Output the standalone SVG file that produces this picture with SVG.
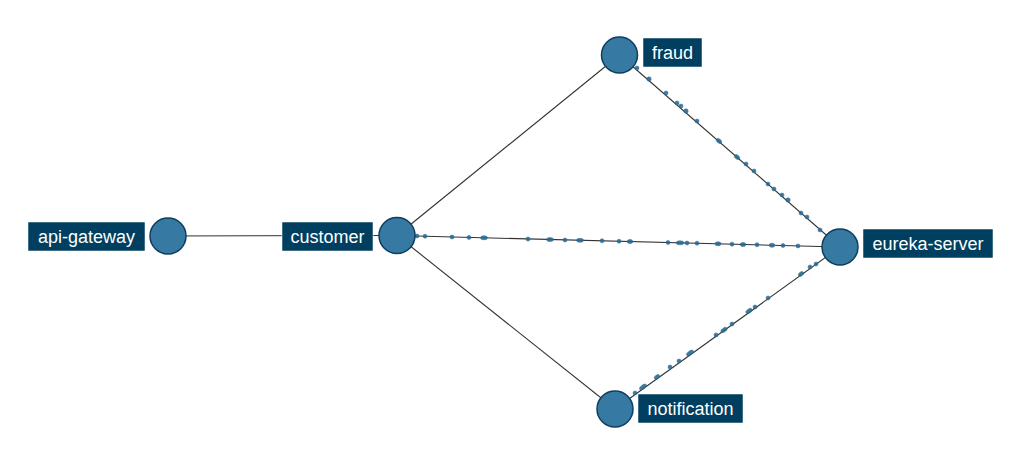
<svg xmlns="http://www.w3.org/2000/svg" width="1027" height="461" viewBox="0 0 1027 461">
<style>
.bg{fill:#ffffff}
.edge{stroke:#333333;stroke-width:1.1;fill:none}
.dot{fill:#2a6a93;stroke:#2a6a93;stroke-width:0.6;opacity:0.9}
.node circle{fill:#367aa3;stroke:#0e3d5e;stroke-width:1.5}
.node rect{fill:#003f5f;stroke:#ffffff;stroke-width:0.5}
.node text{fill:#ffffff;font-family:"Liberation Sans",Arial,sans-serif;font-size:18px;text-anchor:middle}
</style>
<rect class="bg" x="0" y="0" width="1027" height="461"/>
<g id="connectors">
<line class="edge" x1="168" y1="236" x2="397" y2="235.5"/>
<line class="edge" x1="397" y1="235.5" x2="619.5" y2="55"/>
<line class="edge" x1="397" y1="235.5" x2="615" y2="409"/>
<line class="edge" x1="397" y1="235.5" x2="840" y2="247"/>
<line class="edge" x1="619.5" y1="55" x2="840" y2="247"/>
<line class="edge" x1="615" y1="409" x2="840" y2="247"/>
<g id="particles">
<circle class="dot" cx="417" cy="236" r="2"/><circle class="dot" cx="425" cy="236.2" r="2"/><circle class="dot" cx="452" cy="237" r="2"/><circle class="dot" cx="469" cy="237.4" r="2"/><ellipse class="dot" cx="484" cy="237.8" rx="3.5" ry="2"/><circle class="dot" cx="528" cy="239" r="2"/><ellipse class="dot" cx="550" cy="239.5" rx="3.5" ry="2"/><circle class="dot" cx="565" cy="240" r="2"/><ellipse class="dot" cx="580" cy="240.3" rx="3.5" ry="2"/><circle class="dot" cx="602" cy="240.8" r="2"/><circle class="dot" cx="619" cy="241.2" r="2"/><ellipse class="dot" cx="630" cy="241.5" rx="2.8" ry="2"/><circle class="dot" cx="668" cy="242.5" r="2"/><ellipse class="dot" cx="680" cy="242.8" rx="4" ry="2"/><circle class="dot" cx="687" cy="243" r="2"/><circle class="dot" cx="697" cy="243.2" r="2"/><ellipse class="dot" cx="718" cy="243.8" rx="3" ry="2"/><circle class="dot" cx="732" cy="244.2" r="2"/><ellipse class="dot" cx="743" cy="244.5" rx="2.8" ry="2"/><circle class="dot" cx="757" cy="244.8" r="2"/><ellipse class="dot" cx="772" cy="245.2" rx="2.8" ry="2"/><circle class="dot" cx="783" cy="245.5" r="2"/><circle class="dot" cx="798" cy="245.9" r="2"/>
<circle class="dot" cx="637" cy="68" r="2"/><circle class="dot" cx="649" cy="79" r="2.2"/><circle class="dot" cx="666" cy="93" r="2"/><circle class="dot" cx="677" cy="103" r="2"/><circle class="dot" cx="681" cy="106" r="2"/><circle class="dot" cx="686" cy="111" r="2.2"/><circle class="dot" cx="697" cy="121" r="2"/><ellipse class="dot" cx="719" cy="141" rx="3" ry="2" transform="rotate(41 719 141)"/><ellipse class="dot" cx="737" cy="157" rx="3" ry="2" transform="rotate(41 737 157)"/><circle class="dot" cx="746" cy="164" r="2"/><circle class="dot" cx="754" cy="171" r="2"/><circle class="dot" cx="768" cy="184" r="2"/><circle class="dot" cx="774" cy="189" r="2"/><circle class="dot" cx="782" cy="195" r="2"/><circle class="dot" cx="788" cy="200" r="2.2"/><circle class="dot" cx="801" cy="213" r="2"/><circle class="dot" cx="807" cy="217" r="2"/><circle class="dot" cx="820" cy="230" r="2"/>
<circle class="dot" cx="635" cy="393" r="2"/><ellipse class="dot" cx="643" cy="387" rx="4" ry="2" transform="rotate(-36 643 387)"/><ellipse class="dot" cx="657" cy="377" rx="3" ry="2" transform="rotate(-36 657 377)"/><circle class="dot" cx="670" cy="367" r="2"/><circle class="dot" cx="679" cy="361" r="2"/><ellipse class="dot" cx="690" cy="353" rx="4" ry="2" transform="rotate(-36 690 353)"/><circle class="dot" cx="716" cy="335" r="2"/><ellipse class="dot" cx="724" cy="330" rx="3.5" ry="2" transform="rotate(-36 724 330)"/><circle class="dot" cx="732" cy="324" r="2"/><ellipse class="dot" cx="749" cy="311" rx="3.5" ry="2" transform="rotate(-36 749 311)"/><circle class="dot" cx="755" cy="307" r="2"/><circle class="dot" cx="768" cy="298" r="2"/><ellipse class="dot" cx="801" cy="274" rx="3" ry="2" transform="rotate(-36 801 274)"/><circle class="dot" cx="810" cy="267" r="2"/><circle class="dot" cx="816" cy="264" r="2"/>
</g>
</g>
<g id="node-api-gateway" class="node">
<rect x="28" y="222" width="117" height="29"/>
<text x="86.5" y="243">api-gateway</text>
<circle cx="168" cy="236" r="18"/>
</g>
<g id="node-customer" class="node">
<rect x="282" y="222" width="91" height="29"/>
<text x="327.5" y="243">customer</text>
<circle cx="397" cy="235.5" r="18"/>
</g>
<g id="node-fraud" class="node">
<rect x="643" y="38" width="59" height="29"/>
<text x="672.5" y="59">fraud</text>
<circle cx="619.5" cy="55" r="18"/>
</g>
<g id="node-eureka-server" class="node">
<rect x="863" y="229" width="130" height="29"/>
<text x="928" y="250">eureka-server</text>
<circle cx="840" cy="247" r="18"/>
</g>
<g id="node-notification" class="node">
<rect x="638" y="394" width="105" height="29"/>
<text x="690.5" y="415">notification</text>
<circle cx="615" cy="409" r="18"/>
</g>
</svg>
